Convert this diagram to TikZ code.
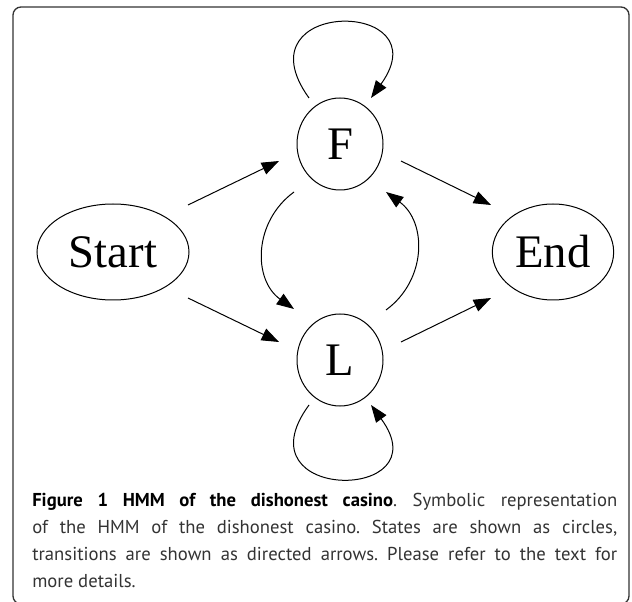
\documentclass[tikz,border=0pt]{standalone}
\usepackage{fontspec}
\setmainfont{Liberation Serif}
\newfontfamily\capfont{PT Sans}
\usetikzlibrary{arrows.meta,calc,shapes.geometric}
\begin{document}
\frenchspacing
\begin{tikzpicture}[x=0.75pt,y=-0.75pt,
  state/.style={draw,line width=0.75pt,inner sep=0pt,ellipse,font=\fontsize{35}{40}\selectfont},
  edge/.style={line width=0.75pt,-{Triangle[length=13pt,width=9.5pt]}},
  capline/.style={anchor=base west,inner sep=0pt,font=\capfont\fontsize{14}{17}\selectfont,text=black!80}]
\useasboundingbox (0,0) rectangle (632,602);
\draw[line width=1pt,black!80,rounded corners=6pt] (13,7) rectangle (629,604);
% states
\node[state,minimum width=114pt,minimum height=72pt] (start) at (113,252) {Start};
\node[state,minimum width=64.5pt,minimum height=69pt] (F) at (340,144) {F};
\node[state,minimum width=64.5pt,minimum height=69pt] (L) at (340,360) {L};
\node[state,minimum width=91pt,minimum height=72pt] (end) at (553,252) {End};
% transitions
\draw[edge] ($(start)+(75,-47)$) -- ($(F)+(-61,17)$);
\draw[edge] ($(start)+(75,46)$) -- ($(L)+(-61,-18)$);
\draw[edge] ($(F)+(61,17)$) -- ($(end)+(-62,-47)$);
\draw[edge] ($(L)+(61,-18)$) -- ($(end)+(-62,46)$);
\draw[edge] ($(F)+(-46,48)$) .. controls ($(F)+(-87,78)$) and ($(L)+(-87,-80)$) .. ($(L)+(-46,-51)$);
\draw[edge] ($(L)+(46,-50)$) .. controls ($(L)+(87,-80)$) and ($(F)+(87,78)$) .. ($(F)+(46,48)$);
\draw[edge] ($(F)+(-31,-46)$) .. controls ($(F)+(-103,-146)$) and ($(F)+(103,-146)$) .. ($(F)+(31,-46)$);
\draw[edge] ($(L)+(-31,45)$) .. controls ($(L)+(-103,143)$) and ($(L)+(103,143)$) .. ($(L)+(31,45)$);
% caption
\node[capline] (c1) at (32,506) {\makebox[438.75pt][s]{{\bfseries\color{black}Figure 1 HMM of the dishonest casino}. Symbolic representation}};
\node[capline] (c2) at (32,533) {\makebox[438.75pt][s]{of the HMM of the dishonest casino. States are shown as circles,}};
\node[capline] (c3) at (32,560) {\makebox[438.75pt][s]{transitions are shown as directed arrows. Please refer to the text for}};
\node[capline] (c4) at (32,587) {more details.};
\end{tikzpicture}
\end{document}
